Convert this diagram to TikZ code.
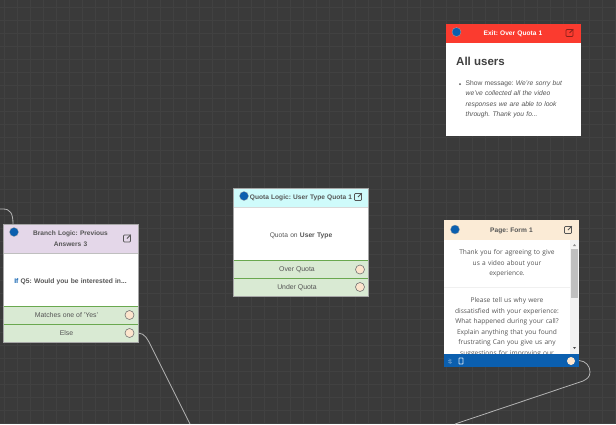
\documentclass[tikz,border=0pt]{standalone}
\usepackage{fontspec}
\setmainfont{Liberation Sans}
\newfontfamily\pagefont{Open Sans}
\usetikzlibrary{positioning}
\definecolor{canvas}{HTML}{3A3A3A}
\definecolor{gridline}{HTML}{414141}
\definecolor{wire}{HTML}{B4B4B4}
\definecolor{rowgreen}{HTML}{D9EAD3}
\definecolor{rowline}{HTML}{6AA84F}
\definecolor{portfill}{HTML}{FCE5CD}
\definecolor{dotblue}{HTML}{0B5FAF}
\definecolor{headpurple}{HTML}{E4D7E9}
\definecolor{headcyan}{HTML}{CFFBFB}
\definecolor{headred}{HTML}{FB3B2F}
\definecolor{headpeach}{HTML}{FBEBD6}
\definecolor{inktext}{HTML}{555555}
\tikzstyle{head} = [rectangle, minimum width=135pt, text width=125pt, align=center, inner sep=0pt, outer sep=0pt, text depth=0pt, font=\fontsize{6.6}{10.5}\selectfont\bfseries, text=inktext]
\tikzstyle{body} = [rectangle, minimum width=135pt, text width=125pt, align=center, inner sep=0pt, outer sep=0pt, fill=white, text=inktext, text height=7pt, text depth=0pt, font=\fontsize{6.7}{11}\selectfont]
\tikzstyle{row} = [rectangle, minimum width=135pt, minimum height=18pt, inner sep=0pt, outer sep=0pt, fill=rowgreen, text=inktext, text height=4.8pt, text depth=0pt, font=\fontsize{6.9}{11}\selectfont]
\tikzstyle{port} = [circle, minimum size=9pt, inner sep=0pt, draw=black!55, fill=portfill, line width=0.6pt]
\tikzstyle{dot} = [circle, minimum size=9pt, inner sep=0pt, fill=dotblue, draw=black!35, line width=0.3pt]
\tikzstyle{editbox} = [rectangle, minimum size=7pt, inner sep=0pt, draw=inktext, line width=0.7pt, rounded corners=0.8pt]
\tikzstyle{wireline} = [wire, line width=0.8pt]
\begin{document}
\frenchspacing
\begin{tikzpicture}[x=1pt, y=-1pt]
  \useasboundingbox (0,0) rectangle (616,424);
  \fill[canvas] (0,0) rectangle (616,424);

  % background grid
  \foreach \i in {0,...,47} \draw[gridline, line width=0.5pt] (\i*13+4,0) -- (\i*13+4,424);
  \foreach \i in {0,...,32} \draw[gridline, line width=0.5pt] (0,\i*13+7) -- (616,\i*13+7);

  % free ends of the connectors
  \coordinate (in_branch) at (0,209);
  \coordinate (branch_top) at (13,224);
  \coordinate (out_else) at (190,424);
  \coordinate (out_page) at (455,424);

  % Branch block
  \node (branch_head) [head, fill=headpurple, minimum height=29pt, text depth=10pt] at (70.5,238.5) {Branch Logic: Previous\\Answers 3};
  \node (branch_body) [body, minimum height=53pt, below=0pt of branch_head] {\textbf{\textcolor{dotblue}{If} Q5:} \textbf{Would you be interested in...}};
  \node (branch_yes) [row, below=0pt of branch_body] {Matches one of 'Yes'\hspace*{8pt}};
  \node (branch_else) [row, below=0pt of branch_yes] {Else\hspace*{8pt}};
  \draw[black!25, line width=1pt] (branch_head.south west) -- (branch_head.south east);
  \draw[rowline, line width=0.8pt] (branch_yes.north west) -- (branch_yes.north east);
  \draw[rowline, line width=0.8pt] (branch_else.north west) -- (branch_else.north east);
  \draw[rowline, line width=0.8pt] (branch_else.south west) -- (branch_else.south east);
  \draw[black!35, line width=0.5pt] (branch_head.north west) rectangle (branch_else.south east);
  \node (branch_dot) [dot] at (14,232) {};
  \node (branch_edit) [editbox] at (127,238.5) {};
  \draw[inktext, line width=0.8pt] (branch_edit.center) -- (branch_edit.north east);
  \node (branch_yes_port) [port] at (129.5,315) {};
  \node (branch_else_port) [port] at (129.5,333) {};

  % Quota block
  \node (quota_head) [head, fill=headcyan, minimum height=19pt] at (301,197.5) {Quota Logic: User Type Quota 1};
  \node (quota_body) [body, minimum height=53pt, below=0pt of quota_head] {Quota on \textbf{User Type}};
  \node (quota_over) [row, below=0pt of quota_body] {Over Quota\hspace*{8pt}};
  \node (quota_under) [row, below=0pt of quota_over] {Under Quota\hspace*{8pt}};
  \draw[black!15, line width=1pt] (quota_head.south west) -- (quota_head.south east);
  \draw[rowline, line width=0.8pt] (quota_over.north west) -- (quota_over.north east);
  \draw[rowline, line width=0.8pt] (quota_under.north west) -- (quota_under.north east);
  \draw[rowline, line width=0.8pt] (quota_under.south west) -- (quota_under.south east);
  \draw[black!35, line width=0.5pt] (quota_head.north west) rectangle (quota_under.south east);
  \node (quota_dot) [dot] at (244,196) {};
  \node (quota_edit) [editbox] at (358,197) {};
  \draw[inktext, line width=0.8pt] (quota_edit.center) -- (quota_edit.north east);
  \node (quota_over_port) [port] at (360,269.5) {};
  \node (quota_under_port) [port] at (360,287) {};

  % Exit block
  \node (exit_head) [head, fill=headred, minimum height=19pt, text=white] at (513,33.5) {Exit: Over Quota 1};
  \node (exit_body) [body, minimum height=93pt, below=0pt of exit_head] {};
  \node (exit_title) [anchor=west, inner sep=0pt, text=black!75, font=\fontsize{11.5}{13}\selectfont\bfseries] at (456,61) {All users};
  \node (exit_text) [anchor=north west, inner sep=0pt, text width=110pt, align=left, text=inktext, font=\fontsize{6.7}{10.3}\selectfont] at (465.5,80.5) {Show message: \textit{We're sorry but\\we've collected all the video\\responses we are able to look\\through. Thank you fo...}};
  \node (exit_bullet) [circle, fill=inktext, minimum size=2pt, inner sep=0pt] at (460,84) {};
  \node (exit_dot) [dot] at (456.5,32) {};
  \node (exit_edit) [editbox, draw=black!45!headred] at (569.5,33) {};
  \draw[black!45!headred, line width=0.8pt] (exit_edit.center) -- (exit_edit.north east);

  % Page block
  \node (page_body) [body, minimum height=114pt, anchor=north west] at (444,240) {};
  \node (page_text) [anchor=north, inner sep=0pt, text width=120pt, align=center, text=inktext, font=\pagefont\fontsize{6.6}{10.5}\selectfont] at (507,249.5) {Thank you for agreeing to give\\us a video about your\\experience.\\[16.5pt] Please tell us why were\\dissatisfied with your experience:\\What happened during your call?\\Explain anything that you found\\frustrating Can you give us any\\suggestions for improving our};
  \draw[black!6, line width=0.5pt] (444,287) -- (570,287);
  \node (page_track) [rectangle, minimum width=9pt, minimum height=114pt, anchor=north east, inner sep=0pt, fill=black!5] at (579,240) {};
  \node (page_thumb) [rectangle, minimum width=7pt, minimum height=49pt, anchor=north, inner sep=0pt, fill=black!25] at (574.5,249) {};
  \fill[black!45] (573,246) -- (576,246) -- (574.5,244) -- cycle;
  \fill[black!70] (573,347) -- (576,347) -- (574.5,349) -- cycle;
  \node (page_head) [head, fill=headpeach, minimum height=20pt] at (511.5,230) {Page: Form 1};
  \node (page_foot) [rectangle, minimum width=135pt, minimum height=13pt, inner sep=0pt, outer sep=0pt, fill=dotblue, anchor=north west] at (444,354) {};
  \node (page_dot) [dot] at (455,229.5) {};
  \node (page_edit) [editbox] at (568,230) {};
  \draw[inktext, line width=0.8pt] (page_edit.center) -- (page_edit.north east);
  \node (page_copy) [rectangle, minimum width=4pt, minimum height=6pt, inner sep=0pt, draw=white!85!dotblue, line width=0.9pt, rounded corners=0.5pt] at (461,361) {};
  \draw[white!30!dotblue, line width=0.5pt, ->, >=stealth] (448,360) -- (452,360);
  \draw[white!30!dotblue, line width=0.5pt, <-, >=stealth] (448,362.5) -- (452,362.5);
  \node (page_port) [port, draw=none, minimum size=8pt] at (571,361) {};

  % Draw the connections between blocks
  \draw [wireline] (in_branch) -- (3,209) .. controls (10,209) and (13,213) .. (branch_top);
  \draw [wireline] (branch_else.east) .. controls (145,333) and (148,340) .. (151,346) -- (out_else);
  \draw [wireline] (page_foot.east) .. controls (586,361) and (590,366) .. (590,372) .. controls (590,377) and (587,379) .. (583,381) -- (out_page);
\end{tikzpicture}
\end{document}
